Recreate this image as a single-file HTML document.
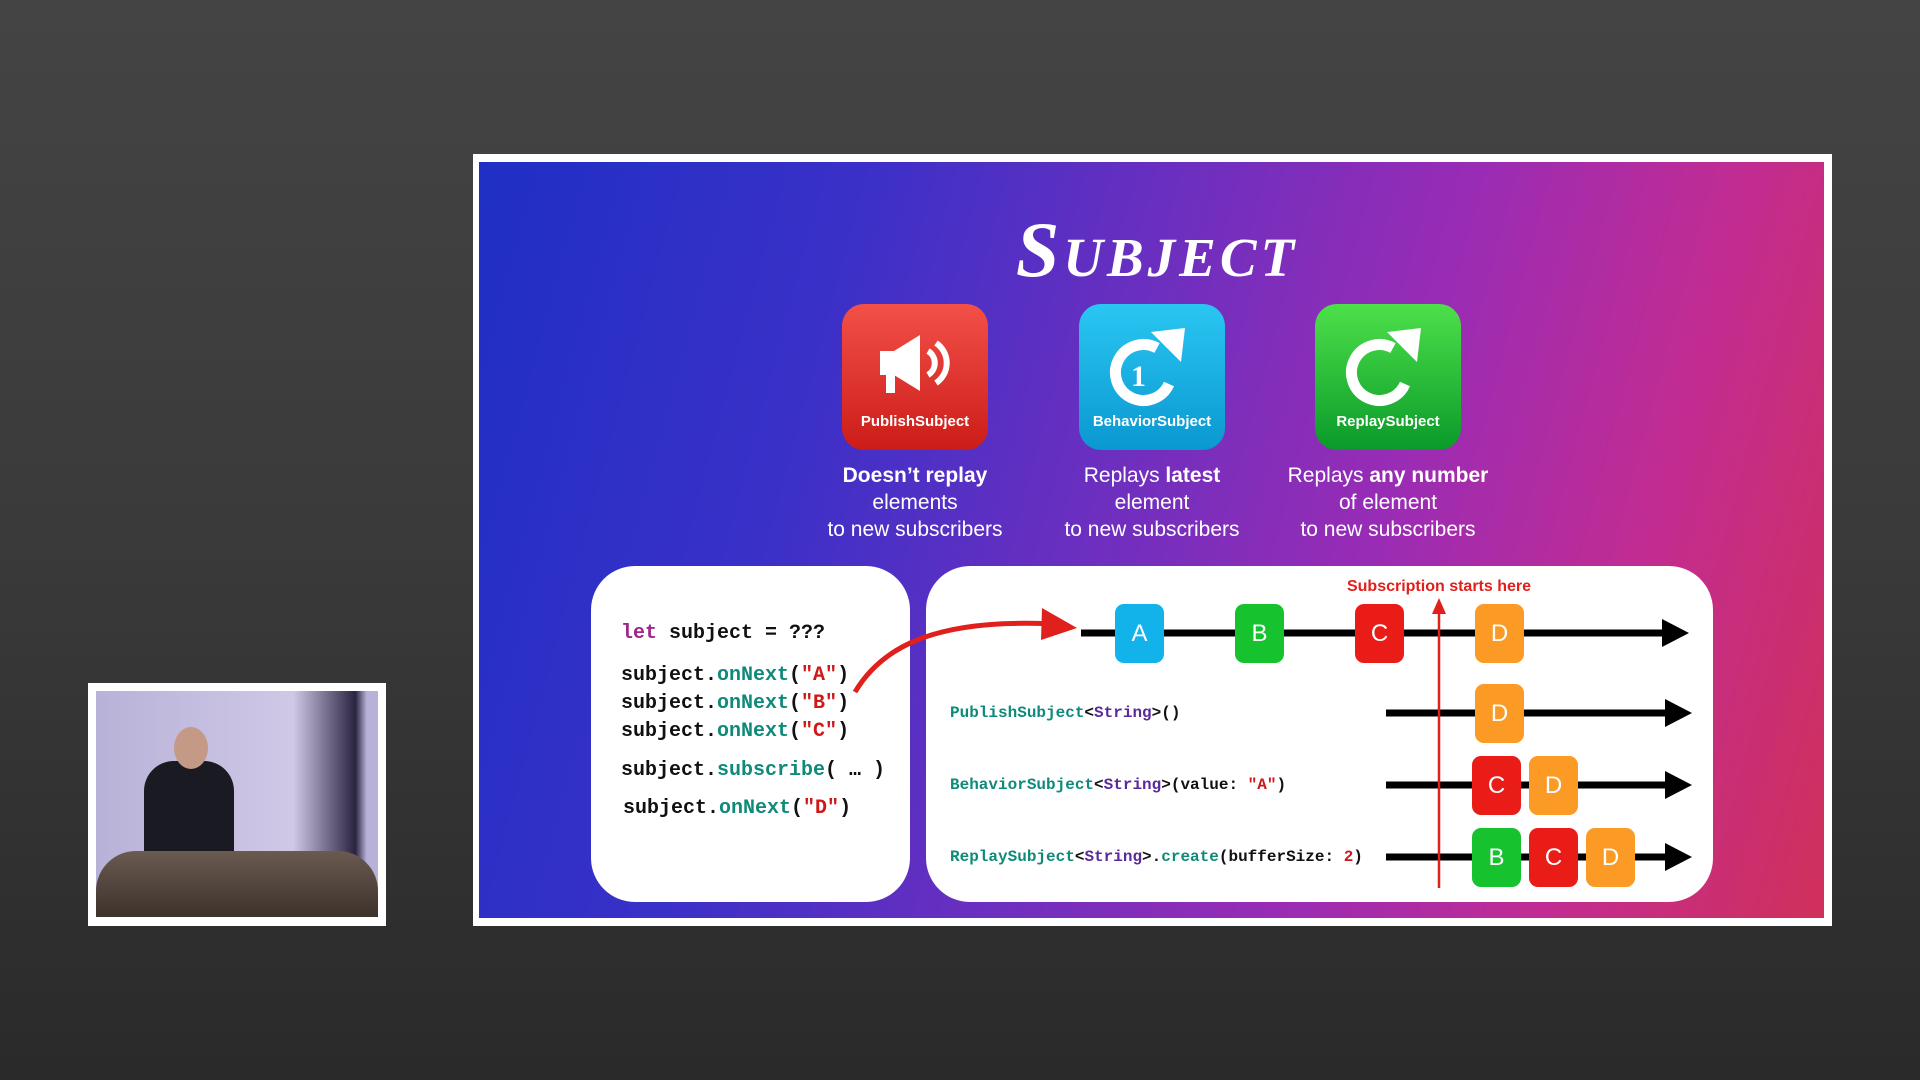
<!DOCTYPE html>
<html><head><style>
html,body{margin:0;padding:0}
body{width:1920px;height:1080px;background:linear-gradient(#444 0%,#3a3a3a 50%,#2a2a2a 100%);position:relative;overflow:hidden;font-family:"Liberation Sans",sans-serif}
.abs{position:absolute}
#frame{left:473px;top:154px;width:1359px;height:772px;background:#fff}
#slide{left:479px;top:162px;width:1345px;height:756px;background:linear-gradient(105deg,#1f2fc4 0%,#3a30c8 25%,#6a2fc0 45%,#9a2cb4 65%,#c22c92 82%,#d0305a 100%);overflow:hidden}
.icon{width:146px;height:146px;border-radius:22px;top:304px;color:#fff;font-weight:bold;font-size:15px;text-align:center}
.icon .lbl{position:absolute;bottom:20px;width:100%}
.desc{top:462px;width:240px;text-align:center;color:#fff;font-size:21px;line-height:27px}
.panel{background:#fff;border-radius:44px}
.code{font-family:"Liberation Mono",monospace;font-weight:bold;font-size:20px;color:#111;left:621px;white-space:pre}
.k{color:#a0258a}.g{color:#0f8a7a}.s{color:#d01818}.p{color:#5a2a9a}
.lab{font-family:"Liberation Mono",monospace;font-weight:bold;font-size:16px;color:#111;left:950px;white-space:pre}
.m{width:49px;height:59px;border-radius:9px;color:#fff;font-size:24px;text-align:center;line-height:59px}
</style></head><body>
<div class="abs" id="frame"></div>
<div class="abs" id="slide"></div>
<div class="abs" style="left:0;width:1920px;top:205px;text-align:center;padding-left:394px;box-sizing:border-box;color:#fff;font-family:'Liberation Serif',serif;font-style:italic;font-weight:bold;font-size:78px;letter-spacing:4px;font-variant:small-caps;width:1920px">Subject</div>

<div class="abs icon" style="left:842px;background:linear-gradient(#f25048,#cc1c18)">
<svg class="abs" style="left:30px;top:25px" width="86" height="70" viewBox="0 0 86 70"><path d="M8 22h14l26-16v56l-26-16H8z" fill="#fff"/><rect x="14" y="42" width="9" height="22" fill="#fff"/><path d="M56 22a14 14 0 0 1 0 24M64 14a24 24 0 0 1 0 40" stroke="#fff" stroke-width="6" fill="none"/></svg>
<div class="lbl">PublishSubject</div></div>
<div class="abs icon" style="left:1079px;background:linear-gradient(#2ac6f2,#0a98d0)">
<svg class="abs" style="left:28px;top:20px" width="90" height="86" viewBox="0 0 90 86"><path d="M62 60A28 28 0 1 1 50 24" stroke="#fff" stroke-width="11" fill="none"/><path d="M44 8l34-4-4 34z" fill="#fff"/><text x="24" y="62" fill="#fff" font-size="30" font-family="Liberation Serif" font-weight="bold">1</text></svg>
<div class="lbl">BehaviorSubject</div></div>
<div class="abs icon" style="left:1315px;background:linear-gradient(#4ee04a,#0a9a2a)">
<svg class="abs" style="left:28px;top:20px" width="90" height="86" viewBox="0 0 90 86"><path d="M62 60A28 28 0 1 1 50 24" stroke="#fff" stroke-width="11" fill="none"/><path d="M44 8l34-4-4 34z" fill="#fff"/></svg>
<div class="lbl">ReplaySubject</div></div>

<div class="abs desc" style="left:795px"><b>Doesn’t replay</b><br>elements<br>to new subscribers</div>
<div class="abs desc" style="left:1032px">Replays <b>latest</b><br>element<br>to new subscribers</div>
<div class="abs desc" style="left:1268px">Replays <b>any number</b><br>of element<br>to new subscribers</div>

<div class="abs panel" style="left:591px;top:566px;width:319px;height:336px"></div>
<div class="abs panel" style="left:926px;top:566px;width:787px;height:336px"></div>

<div class="abs code" style="top:622px"><span class="k">let</span> subject = ???</div>
<div class="abs code" style="top:664px">subject.<span class="g">onNext</span>(<span class="s">"A"</span>)</div>
<div class="abs code" style="top:692px">subject.<span class="g">onNext</span>(<span class="s">"B"</span>)</div>
<div class="abs code" style="top:720px">subject.<span class="g">onNext</span>(<span class="s">"C"</span>)</div>
<div class="abs code" style="top:759px">subject.<span class="g">subscribe</span>( … )</div>
<div class="abs code" style="top:797px;left:623px">subject.<span class="g">onNext</span>(<span class="s">"D"</span>)</div>

<div class="abs lab" style="top:704px"><span class="g">PublishSubject</span>&lt;<span class="p">String</span>&gt;()</div>
<div class="abs lab" style="top:776px"><span class="g">BehaviorSubject</span>&lt;<span class="p">String</span>&gt;(value: <span class="s">"A"</span>)</div>
<div class="abs lab" style="top:848px"><span class="g">ReplaySubject</span>&lt;<span class="p">String</span>&gt;.<span class="g">create</span>(bufferSize: <span class="s">2</span>)</div>

<div class="abs" style="left:1339px;top:578px;width:200px;text-align:center;color:#e0201c;font-weight:bold;font-size:16px">Subscription starts here</div>

<svg class="abs" style="left:0;top:0" width="1920" height="1080">
<g stroke="#000" stroke-width="7">
<line x1="1081" y1="633" x2="1665" y2="633"/>
<line x1="1386" y1="713" x2="1668" y2="713"/>
<line x1="1386" y1="785" x2="1668" y2="785"/>
<line x1="1386" y1="857" x2="1668" y2="857"/>
</g>
<g fill="#000">
<path d="M1662 619l27 14-27 14z"/><path d="M1665 699l27 14-27 14z"/><path d="M1665 771l27 14-27 14z"/><path d="M1665 843l27 14-27 14z"/>
</g>
<line x1="1439" y1="610" x2="1439" y2="888" stroke="#e0201c" stroke-width="2.5"/>
<path d="M1432 614l7-16 7 16z" fill="#e0201c"/>
<path d="M855 692C880 650 930 618 1052 624" stroke="#e0201c" stroke-width="5" fill="none"/>
<path d="M1042 608l35 20-36 12z" fill="#e0201c"/>
</svg>

<div class="abs m" style="left:1115px;top:604px;background:#12b2ea">A</div>
<div class="abs m" style="left:1235px;top:604px;background:#16c22e">B</div>
<div class="abs m" style="left:1355px;top:604px;background:#ea1c18">C</div>
<div class="abs m" style="left:1475px;top:604px;background:#fc9a26">D</div>
<div class="abs m" style="left:1475px;top:684px;background:#fc9a26">D</div>
<div class="abs m" style="left:1472px;top:756px;background:#ea1c18">C</div>
<div class="abs m" style="left:1529px;top:756px;background:#fc9a26">D</div>
<div class="abs m" style="left:1472px;top:828px;background:#16c22e">B</div>
<div class="abs m" style="left:1529px;top:828px;background:#ea1c18">C</div>
<div class="abs m" style="left:1586px;top:828px;background:#fc9a26">D</div>

<div class="abs" style="left:88px;top:683px;width:298px;height:243px;background:#fff"></div>
<div class="abs" style="left:96px;top:691px;width:282px;height:226px;background:linear-gradient(90deg,#b8b2d8,#cfc8e6 70%,#2a2440 92%,#b8b2d8 96%);overflow:hidden">
<div class="abs" style="left:48px;top:70px;width:90px;height:110px;background:#1a1a22;border-radius:30px 30px 6px 6px"></div>
<div class="abs" style="left:78px;top:36px;width:34px;height:42px;background:#c49a86;border-radius:50%"></div>
<div class="abs" style="left:0;top:160px;width:282px;height:70px;background:linear-gradient(#6a5a50,#3a302a);border-radius:40px 40px 0 0"></div>
</div>
</body></html>
